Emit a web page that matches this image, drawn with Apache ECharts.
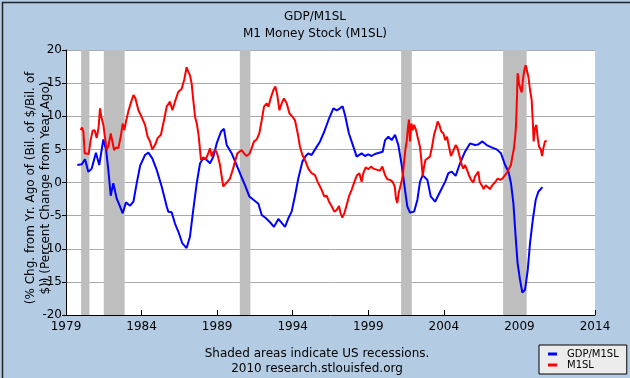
<!DOCTYPE html>
<html>
<head>
<meta charset="utf-8">
<script src="https://cdn.jsdelivr.net/npm/echarts@6/dist/echarts.min.js"></script>
<style>
html,body{margin:0;padding:0;background:#b4cce3;}
#chart{width:630px;height:378px;}
</style>
</head>
<body>
<div id="chart"></div>
<script>
// Blue series: GDP/M1SL, % change from year ago
const blueYears = [1979.75,1980.04,1980.26,1980.48,1980.7,1980.98,1981.2,1981.47,1981.65,1981.8,1981.96,1982.13,1982.35,1982.57,1982.75,1982.97,1983.24,1983.46,1983.68,1983.9,1984.23,1984.45,1984.71,1985.0,1985.33,1985.66,1985.77,1985.99,1986.21,1986.43,1986.7,1986.98,1987.2,1987.42,1987.65,1987.87,1988.09,1988.31,1988.53,1988.75,1988.97,1989.26,1989.45,1989.63,1989.96,1990.29,1990.56,1990.84,1991.13,1991.4,1991.73,1991.95,1992.23,1992.5,1992.76,1993.05,1993.27,1993.49,1993.71,1993.93,1994.15,1994.37,1994.64,1994.86,1995.03,1995.25,1995.52,1995.81,1996.09,1996.36,1996.69,1996.91,1997.13,1997.3,1997.46,1997.72,1997.94,1998.23,1998.56,1998.78,1999.0,1999.22,1999.44,1999.95,2000.11,2000.33,2000.55,2000.77,2000.99,2001.21,2001.43,2001.58,2001.76,2002.03,2002.25,2002.42,2002.6,2002.91,2003.13,2003.42,2003.75,2004.08,2004.3,2004.52,2004.78,2005.07,2005.4,2005.73,2006.06,2006.28,2006.55,2006.83,2007.16,2007.49,2007.78,2008.05,2008.27,2008.44,2008.6,2008.75,2008.88,2009.04,2009.19,2009.37,2009.55,2009.7,2009.88,2010.08,2010.25,2010.52];
const blueValues = [2.64,2.74,3.5,1.6,2.1,4.5,2.64,6.5,5.0,1.9,-2.0,-0.1,-2.4,-3.6,-4.65,-3.0,-3.5,-2.9,-0.1,2.5,4.15,4.5,3.65,1.9,-0.6,-3.6,-4.4,-4.5,-6.2,-7.4,-9.2,-9.9,-8.2,-4.15,-0.1,2.9,3.65,3.4,2.9,3.9,5.9,7.7,8.1,5.65,4.4,2.64,1.1,-0.4,-2.1,-2.6,-3.2,-4.9,-5.4,-6.0,-6.7,-5.5,-6.1,-6.7,-5.4,-4.4,-2.0,0.6,3.15,4.0,4.4,4.15,5.15,6.2,7.7,9.4,11.2,10.9,11.2,11.5,10.2,7.4,5.9,3.9,4.4,4.0,4.25,4.0,4.3,4.65,6.4,6.9,6.4,7.2,5.65,2.64,-1.1,-3.6,-4.55,-4.4,-2.6,0.1,1.1,0.4,-2.1,-2.9,-1.4,0.1,1.4,1.65,1.0,2.9,4.65,5.9,5.65,5.75,6.2,5.65,5.3,5.0,4.4,2.64,1.65,-0.1,-3.1,-8.2,-12.2,-14.7,-16.6,-16.2,-13.2,-9.2,-5.7,-2.6,-1.4,-0.7];

// Red series: M1SL, % change from year ago
const redYears = [1979.97,1980.06,1980.15,1980.24,1980.37,1980.5,1980.63,1980.76,1980.9,1981.03,1981.16,1981.25,1981.34,1981.47,1981.56,1981.69,1981.82,1981.96,1982.07,1982.18,1982.31,1982.46,1982.62,1982.75,1982.86,1982.97,1983.12,1983.28,1983.46,1983.59,1983.79,1983.94,1984.07,1984.23,1984.4,1984.56,1984.71,1984.89,1985.06,1985.28,1985.51,1985.66,1985.88,1986.04,1986.21,1986.43,1986.65,1986.83,1986.98,1987.09,1987.2,1987.31,1987.42,1987.54,1987.65,1987.76,1987.87,1987.93,1988.09,1988.24,1988.37,1988.53,1988.64,1988.75,1988.9,1989.03,1989.19,1989.3,1989.41,1989.52,1989.67,1989.85,1990.03,1990.18,1990.34,1990.47,1990.62,1990.78,1990.95,1991.13,1991.28,1991.44,1991.62,1991.79,1991.95,1992.1,1992.28,1992.39,1992.54,1992.72,1992.85,1992.98,1993.12,1993.27,1993.42,1993.6,1993.78,1993.99,1994.15,1994.33,1994.48,1994.64,1994.81,1995.03,1995.25,1995.47,1995.65,1995.87,1996.09,1996.25,1996.4,1996.58,1996.75,1996.91,1997.06,1997.17,1997.28,1997.42,1997.57,1997.75,1997.9,1998.08,1998.25,1998.41,1998.56,1998.67,1998.83,1999.0,1999.18,1999.33,1999.45,1999.6,1999.78,1999.93,2000.11,2000.26,2000.44,2000.61,2000.75,2000.83,2000.92,2001.01,2001.14,2001.28,2001.36,2001.45,2001.54,2001.63,2001.69,2001.76,2001.85,2001.94,2002.03,2002.16,2002.31,2002.42,2002.51,2002.6,2002.69,2002.78,2002.91,2003.08,2003.22,2003.35,2003.48,2003.59,2003.7,2003.83,2003.97,2004.1,2004.21,2004.34,2004.47,2004.63,2004.78,2004.91,2005.05,2005.18,2005.29,2005.4,2005.53,2005.66,2005.8,2005.95,2006.06,2006.19,2006.28,2006.37,2006.5,2006.63,2006.77,2006.9,2007.05,2007.21,2007.38,2007.56,2007.72,2007.87,2008.05,2008.18,2008.31,2008.44,2008.53,2008.62,2008.71,2008.77,2008.84,2008.88,2008.97,2009.06,2009.15,2009.24,2009.33,2009.41,2009.5,2009.59,2009.7,2009.81,2009.88,2009.94,2010.03,2010.12,2010.21,2010.3,2010.41,2010.5,2010.58,2010.69,2010.8];
const redValues = [7.9,8.3,7.7,4.4,4.15,4.3,6.4,7.8,7.9,6.7,8.4,11.2,9.9,8.7,7.2,4.9,5.65,7.4,6.2,4.9,5.3,5.15,6.9,8.9,7.9,9.2,10.7,11.95,13.2,12.7,10.9,10.2,9.9,8.7,6.9,6.2,5.0,5.65,6.7,7.2,9.7,11.45,12.2,10.9,12.2,13.7,14.1,15.6,17.4,16.7,16.2,15.0,12.45,9.9,8.9,7.4,4.9,3.4,3.8,3.5,4.15,5.15,3.9,4.65,4.9,4.15,2.64,0.9,-0.6,-0.5,0.1,0.6,1.9,3.15,4.4,4.65,4.9,4.4,4.0,4.3,5.15,6.2,6.5,7.4,9.4,11.45,11.95,11.45,12.7,13.95,14.5,13.2,10.9,11.95,12.7,11.95,10.45,9.9,9.4,7.4,5.4,4.15,3.4,2.1,1.4,1.1,0.1,-0.9,-2.1,-2.0,-2.9,-3.6,-4.4,-4.15,-3.55,-4.65,-5.3,-4.65,-3.4,-1.9,-1.1,0.1,1.1,1.4,0.1,1.4,2.3,2.0,2.4,2.1,2.2,1.9,1.8,2.4,1.1,0.5,0.4,0.1,-0.6,-2.4,-3.1,-1.6,-0.4,0.9,2.9,4.9,6.2,8.4,9.5,6.2,8.9,7.9,8.7,7.9,6.4,5.4,3.4,0.9,2.4,3.4,3.5,3.9,5.4,7.2,8.2,9.2,8.7,7.7,7.4,6.4,6.9,5.4,4.0,4.8,5.65,5.15,3.9,2.64,2.1,2.64,1.9,1.1,0.4,0.0,0.9,1.1,1.65,0.1,-0.4,-1.0,-0.4,-0.5,-1.0,-0.4,0.0,0.6,0.4,0.6,1.1,1.5,2.1,2.64,3.9,4.9,6.7,8.4,12.95,16.5,15.0,14.2,13.6,15.7,17.0,17.7,17.7,16.0,14.0,12.45,9.4,6.2,8.2,8.7,6.7,5.4,5.0,4.0,5.15,6.2,6.3];

// Recessions (decimal years)
const recessionStarts = [1980.0, 1981.5, 1990.5, 2001.17, 2007.92];
const recessionEnds   = [1980.55, 1982.88, 1991.2, 2001.88, 2009.48];

const yTicks = { min: -20, max: 20, step: 5 };
const xTicks = { min: 1979, max: 2014, step: 5 };

const FONT = 'DejaVu Sans';
const chart = echarts.init(document.getElementById('chart'), null, {renderer: 'canvas'});

const zip = (a, b) => a.map((v, i) => [v, b[i]]);

chart.setOption({
  backgroundColor: '#b4cce3',
  animation: false,
  title: [
    { text: 'GDP/M1SL', left: 'center', top: 6,
      textStyle: { fontFamily: FONT, fontSize: 12, fontWeight: 'normal', color: '#000' } },
    { text: 'M1 Money Stock (M1SL)', left: 'center', top: 23,
      textStyle: { fontFamily: FONT, fontSize: 12, fontWeight: 'normal', color: '#000' } }
  ],
  grid: { left: 66, right: 35, top: 50, bottom: 63, containLabel: false,
          show: true, backgroundColor: '#ffffff', borderWidth: 0 },
  xAxis: {
    type: 'value', min: xTicks.min, max: xTicks.max, interval: xTicks.step,
    axisLine: { onZero: false, lineStyle: { color: '#000', width: 1 } },
    axisTick: { inside: true, length: 5, lineStyle: { color: '#000' } },
    axisLabel: { fontFamily: FONT, fontSize: 12, color: '#000', margin: 6,
      formatter: v => String(Math.round(v)) },
    splitLine: { show: false }
  },
  yAxis: {
    type: 'value', min: yTicks.min, max: yTicks.max, interval: yTicks.step,
    axisLine: { show: true, onZero: false, lineStyle: { color: '#000', width: 1 } },
    axisTick: { show: true, length: 4, lineStyle: { color: '#000' } },
    axisLabel: { fontFamily: FONT, fontSize: 12, color: '#000', margin: 4 },
    splitLine: { show: true, lineStyle: { color: '#aaaaaa', width: 1 } }
  },
  legend: {
    orient: 'vertical', left: 539, top: 345,
    backgroundColor: '#ececec', borderColor: '#000', borderWidth: 1,
    padding: [4, 8, 4, 9], itemGap: 1,
    itemWidth: 9, itemHeight: 3, icon: 'rect',
    textStyle: { fontFamily: FONT, fontSize: 10, color: '#000', padding: [0, 0, 0, 5] },
    data: ['GDP/M1SL', 'M1SL']
  },
  graphic: [
    { type: 'rect', left: 0, top: 0, shape: { width: 629, height: 377 },
      style: { fill: 'none', stroke: '#222', lineWidth: 1.5 }, silent: true },
    { type: 'text', x: 31, y: 188, rotation: Math.PI / 2,
      style: { text: '(% Chg. from Yr. Ago of (Bil. of $/Bil. of', fontFamily: FONT, fontSize: 12,
        fill: '#000', align: 'center', verticalAlign: 'middle' } },
    { type: 'text', x: 46, y: 188, rotation: Math.PI / 2,
      style: { text: '$)) (Percent Change from Year Ago)', fontFamily: FONT, fontSize: 12,
        fill: '#000', align: 'center', verticalAlign: 'middle' } },
    { type: 'text', x: 317, y: 354,
      style: { text: 'Shaded areas indicate US recessions.', fontFamily: FONT, fontSize: 12,
        fill: '#000', align: 'center', verticalAlign: 'middle' } },
    { type: 'text', x: 317, y: 369,
      style: { text: '2010 research.stlouisfed.org', fontFamily: FONT, fontSize: 12,
        fill: '#000', align: 'center', verticalAlign: 'middle' } }
  ],
  series: [
    {
      name: 'recessions', type: 'line', data: [], z: 1, silent: true,
      markArea: {
        silent: true,
        itemStyle: { color: '#bebebe', opacity: 1 },
        data: recessionStarts.map((s, i) => [{ xAxis: s }, { xAxis: recessionEnds[i] }])
      }
    },
    {
      name: 'GDP/M1SL', type: 'line', z: 3, showSymbol: false, smooth: false,
      color: '#0000ff', lineStyle: { color: '#0000ff', width: 2 },
      data: zip(blueYears, blueValues)
    },
    {
      name: 'M1SL', type: 'line', z: 3, showSymbol: false, smooth: false,
      color: '#ff0000', lineStyle: { color: '#ff0000', width: 2 },
      data: zip(redYears, redValues)
    }
  ]
});
</script>
</body>
</html>
